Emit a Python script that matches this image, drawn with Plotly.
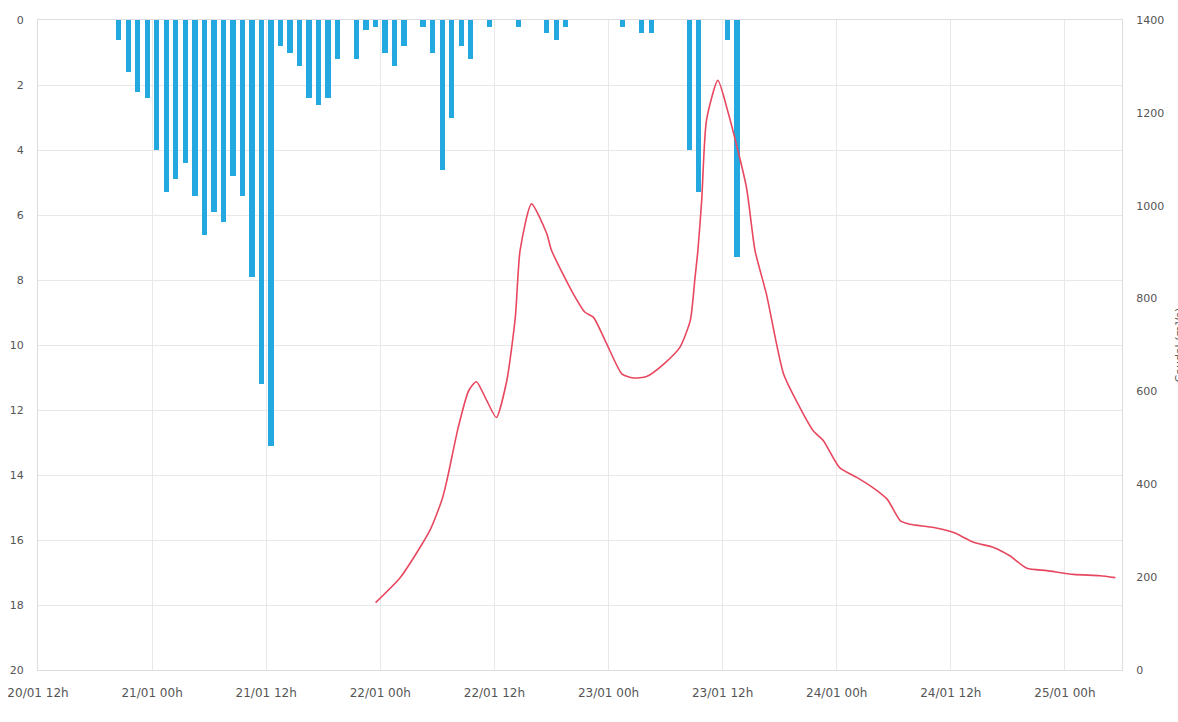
import plotly.graph_objects as go

# Hourly rainfall (mm), bars centred on the half hour
rain_time = [
    "2020-01-20 20:30", "2020-01-20 21:30", "2020-01-20 22:30", "2020-01-20 23:30",
    "2020-01-21 00:30", "2020-01-21 01:30", "2020-01-21 02:30", "2020-01-21 03:30",
    "2020-01-21 04:30", "2020-01-21 05:30", "2020-01-21 06:30", "2020-01-21 07:30",
    "2020-01-21 08:30", "2020-01-21 09:30", "2020-01-21 10:30", "2020-01-21 11:30",
    "2020-01-21 12:30", "2020-01-21 13:30", "2020-01-21 14:30", "2020-01-21 15:30",
    "2020-01-21 16:30", "2020-01-21 17:30", "2020-01-21 18:30", "2020-01-21 19:30",
    "2020-01-21 21:30", "2020-01-21 22:30", "2020-01-21 23:30",
    "2020-01-22 00:30", "2020-01-22 01:30", "2020-01-22 02:30", "2020-01-22 04:30",
    "2020-01-22 05:30", "2020-01-22 06:30", "2020-01-22 07:30", "2020-01-22 08:30",
    "2020-01-22 09:30", "2020-01-22 11:30", "2020-01-22 14:30", "2020-01-22 17:30",
    "2020-01-22 18:30", "2020-01-22 19:30",
    "2020-01-23 01:30", "2020-01-23 03:30", "2020-01-23 04:30", "2020-01-23 08:30",
    "2020-01-23 09:30", "2020-01-23 12:30", "2020-01-23 13:30",
]
rain_mm = [
    0.6, 1.6, 2.2, 2.4,
    4.0, 5.3, 4.9, 4.4,
    5.4, 6.6, 5.9, 6.2,
    4.8, 5.4, 7.9, 11.2,
    13.1, 0.8, 1.0, 1.4,
    2.4, 2.6, 2.4, 1.2,
    1.2, 0.3, 0.2,
    1.0, 1.4, 0.8, 0.2,
    1.0, 4.6, 3.0, 0.8,
    1.2, 0.2, 0.2, 0.4,
    0.6, 0.2,
    0.2, 0.4, 0.4, 4.0,
    5.3, 0.6, 7.3,
]

# River discharge (m³/s)
flow_time = [
    "2020-01-21 23:30", "2020-01-22 02:06", "2020-01-22 05:12", "2020-01-22 06:30",
    "2020-01-22 07:00", "2020-01-22 08:12", "2020-01-22 09:18", "2020-01-22 10:06",
    "2020-01-22 11:12", "2020-01-22 12:12", "2020-01-22 13:18", "2020-01-22 14:12",
    "2020-01-22 14:42", "2020-01-22 15:54", "2020-01-22 17:30", "2020-01-22 18:00",
    "2020-01-22 20:18", "2020-01-22 21:30", "2020-01-22 22:24", "2020-01-22 23:48",
    "2020-01-23 01:24", "2020-01-23 02:36", "2020-01-23 04:00", "2020-01-23 05:48",
    "2020-01-23 07:30", "2020-01-23 08:36", "2020-01-23 09:06", "2020-01-23 09:24",
    "2020-01-23 09:48", "2020-01-23 10:18", "2020-01-23 11:30", "2020-01-23 12:36",
    "2020-01-23 14:30", "2020-01-23 15:24", "2020-01-23 16:36", "2020-01-23 18:24",
    "2020-01-23 20:06", "2020-01-23 21:30", "2020-01-23 22:36", "2020-01-24 00:18",
    "2020-01-24 02:06", "2020-01-24 03:48", "2020-01-24 05:18", "2020-01-24 06:42",
    "2020-01-24 07:42", "2020-01-24 10:12", "2020-01-24 12:18", "2020-01-24 14:24",
    "2020-01-24 16:30", "2020-01-24 18:12", "2020-01-24 20:00", "2020-01-24 22:06",
    "2020-01-25 00:54", "2020-01-25 03:42", "2020-01-25 05:18",
]
flow_m3s = [
    145, 199, 300, 368,
    408, 523, 602, 621,
    580, 544, 623, 760,
    904, 1004, 940, 904,
    810, 771, 760, 703,
    638, 629, 632, 659,
    695, 753, 846, 904,
    1012, 1184, 1270, 1199,
    1040, 904, 810, 638,
    566, 516, 494, 436,
    415, 393, 368, 321,
    314, 307, 296, 275,
    264, 246, 219, 214,
    206, 203, 199,
]

rain_ticks = list(range(0, 21, 2))
flow_ticks = list(range(0, 1401, 200))

X_FONT = dict(family="DejaVu Sans", size=12, color="#555555")
Y_FONT = dict(family="DejaVu Sans", size=11, color="#555555")
GRID = "#e8e8e8"
EDGE = "#dddddd"
NO_TICK = "rgba(0,0,0,0)"

fig = go.Figure()

fig.add_trace(go.Bar(
    x=rain_time, y=rain_mm, yaxis="y",
    marker=dict(color="#23a8e0", line=dict(width=0)),
    width=0.55 * 3600 * 1000,
    showlegend=False,
))

fig.add_trace(go.Scatter(
    x=flow_time, y=flow_m3s, yaxis="y2", mode="lines",
    line=dict(color="#e8485f", width=1.6, shape="spline", smoothing=0.6),
    showlegend=False,
))

fig.update_layout(
    width=1178, height=722,
    margin=dict(l=38, r=56, t=20, b=52, autoexpand=False),
    paper_bgcolor="white", plot_bgcolor="white",
    bargap=0,
    xaxis=dict(
        type="date",
        range=["2020-01-20 12:00", "2020-01-25 06:00"],
        tick0="2020-01-20 12:00", dtick=12 * 3600 * 1000,
        tickformat="%d/%m %Hh",
        tickfont=X_FONT,
        showgrid=True, gridcolor=GRID, gridwidth=1,
        showline=True, linecolor=EDGE, linewidth=1, mirror=True,
        ticks="outside", ticklen=12, tickcolor=NO_TICK,
        zeroline=False, automargin=False,
    ),
    yaxis=dict(
        range=[20, 0],
        tickvals=rain_ticks,
        tickfont=Y_FONT,
        showgrid=True, gridcolor=GRID, gridwidth=1,
        showline=True, linecolor=EDGE, linewidth=1,
        zeroline=False, automargin=False,
        ticks="outside", ticklen=11, tickcolor=NO_TICK,
    ),
    yaxis2=dict(
        overlaying="y", side="right",
        range=[0, 1400],
        tickvals=flow_ticks,
        tickfont=Y_FONT,
        showgrid=False, zeroline=False, automargin=False,
        showline=True, linecolor=EDGE, linewidth=1,
        ticks="outside", ticklen=11, tickcolor=NO_TICK,
    ),
    annotations=[dict(
        text="Caudal (m³/s)",
        xref="paper", yref="paper",
        x=(1170 - 38) / (1178 - 38 - 56), y=0.5,
        xanchor="left", yanchor="middle",
        textangle=-90, showarrow=False,
        font=dict(family="DejaVu Sans", size=11, color="#555555"),
    )],
)

fig.write_html("out.html")
